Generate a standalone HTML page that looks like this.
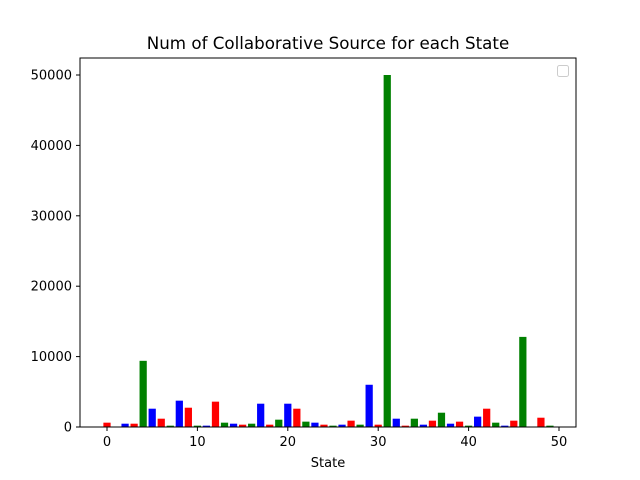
<!DOCTYPE html>
<html><head><meta charset="utf-8"><style>body{margin:0;background:#fff}svg{display:block;font-family:"DejaVu Sans","Liberation Sans",sans-serif}</style></head>
<body>
<svg id="c" width="640" height="480" xmlns="http://www.w3.org/2000/svg">
<text x="328" y="49" font-size="16.7" text-anchor="middle">Num of Collaborative Source for each State</text>
<g id="bars"></g>
<rect x="80" y="58" width="496" height="369" fill="none" stroke="#000" stroke-width="1"/>
<g id="xt"></g>
<g id="yt"></g>
<text x="328" y="467" font-size="13" text-anchor="middle">State</text>
<rect x="557.5" y="65.5" width="11" height="11" rx="2" fill="#fff" stroke="#ccc"/>
</svg>
<script>
const values = [615,50,470,470,9400,2600,1180,190,3740,2740,190,190,3600,615,470,330,470,3310,330,1040,3310,2600,760,615,330,190,330,900,330,6000,330,50000,1180,190,1180,330,900,2030,470,760,190,1470,2600,615,190,900,12800,0,1320,190,0];
const colors = ["red","green","blue"];
const xTicks = [0,10,20,30,40,50];
const yTicks = [0,10000,20000,30000,40000,50000];
const NS="http://www.w3.org/2000/svg";
const xs = v => 107 + v*9.04;
const ys = v => 427 - v*352/50000;
const bars=document.getElementById('bars');
values.forEach((v,i)=>{
  const r=document.createElementNS(NS,'rect');
  r.setAttribute('x',xs(i-0.4));r.setAttribute('width',9.04*0.8);
  r.setAttribute('y',ys(v));r.setAttribute('height',ys(0)-ys(v));
  r.setAttribute('fill',colors[i%3]);
  
  
  bars.appendChild(r);
});
const xt=document.getElementById('xt');
xTicks.forEach(t=>{
  const l=document.createElementNS(NS,'line');
  l.setAttribute('x1',xs(t));l.setAttribute('x2',xs(t));l.setAttribute('y1',427);l.setAttribute('y2',431);l.setAttribute('stroke','#000');
  
  
  xt.appendChild(l);
  const s=document.createElementNS(NS,'text');
  s.setAttribute('x',xs(t));s.setAttribute('y',446);s.setAttribute('font-size','13');s.setAttribute('text-anchor','middle');
  s.textContent=t;
  
  
  xt.appendChild(s);
});
const yt=document.getElementById('yt');
yTicks.forEach(t=>{
  const l=document.createElementNS(NS,'line');
  l.setAttribute('x1',76);l.setAttribute('x2',80);l.setAttribute('y1',ys(t));l.setAttribute('y2',ys(t));l.setAttribute('stroke','#000');
  
  
  yt.appendChild(l);
  const s=document.createElementNS(NS,'text');
  s.setAttribute('x',72);s.setAttribute('y',ys(t)+4.5);s.setAttribute('font-size','13');s.setAttribute('text-anchor','end');
  s.textContent=t;
  
  
  yt.appendChild(s);
});
</script>
</body></html>
